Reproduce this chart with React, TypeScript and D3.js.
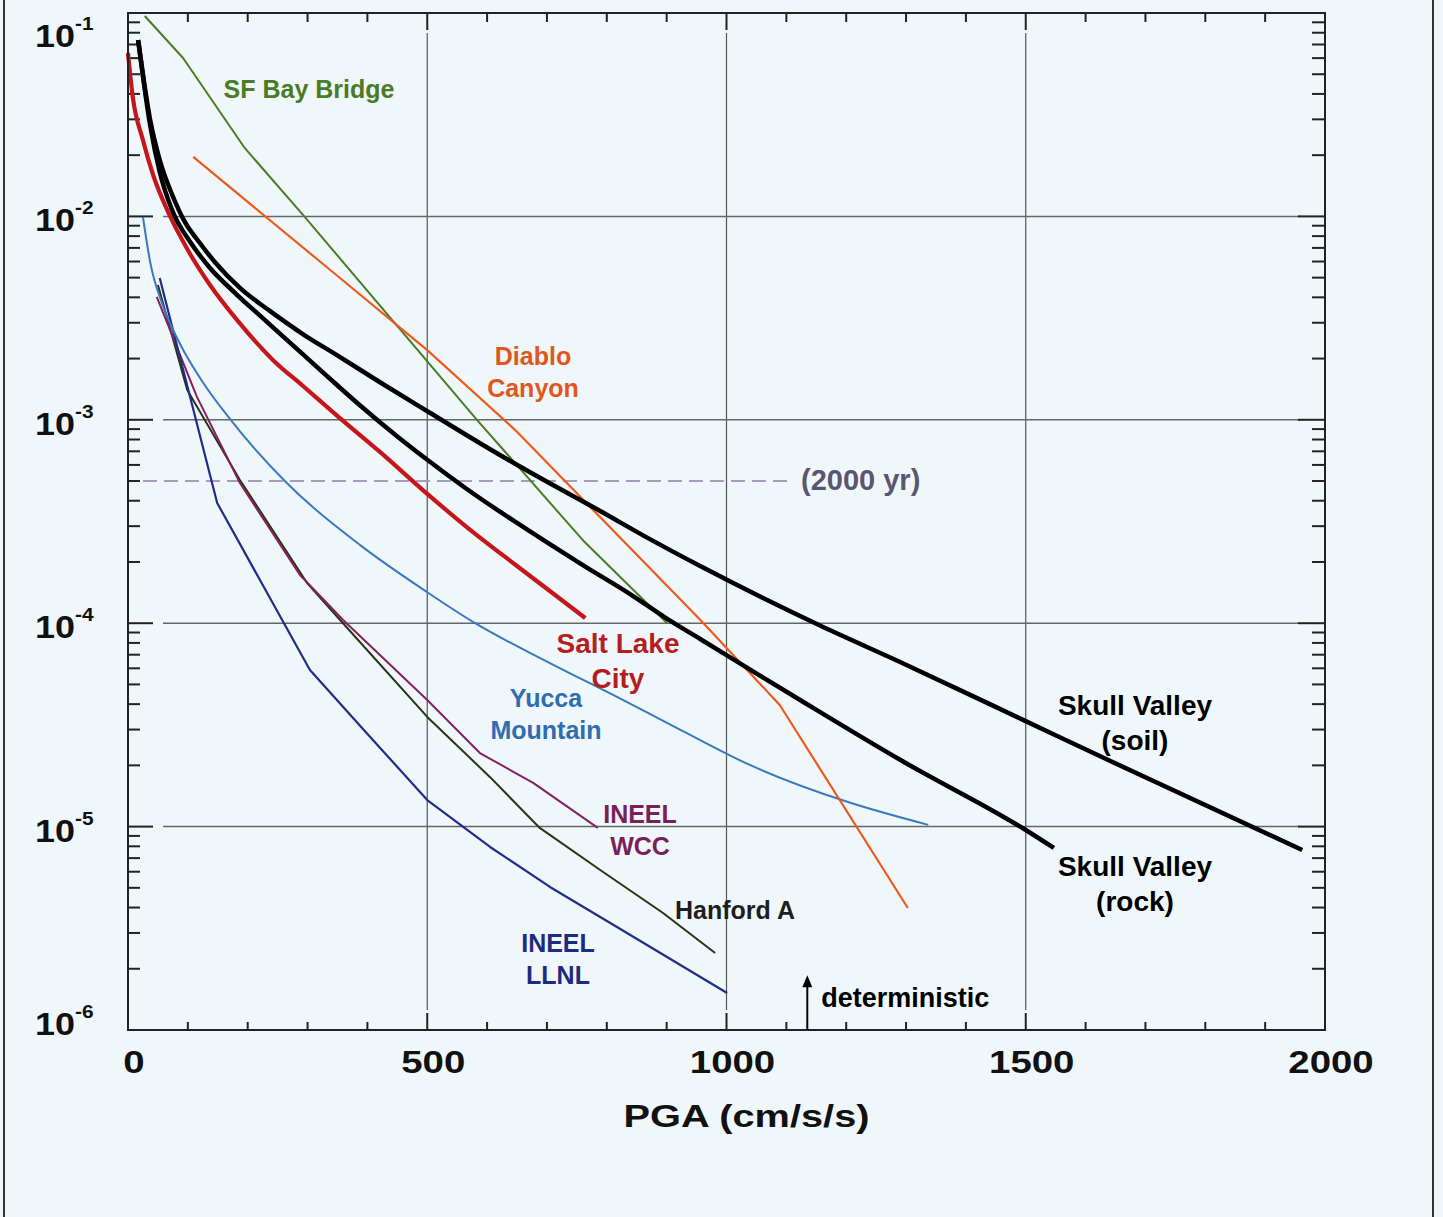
import React from 'react';
import * as d3 from 'd3';

// hazard curves: [PGA cm/s/s, annual frequency of exceedance]
const sfBayBridge: [number, number][] = [
  [28, 0.0967], [92, 0.0601], [195, 0.0217], [292, 0.0102], [583, 1.0e-3], [760, 2.56e-4], [901, 1.0e-4],
];
const diabloCanyon: [number, number][] = [
  [109, 0.0196], [338, 0.00545], [500, 0.0022], [647, 8.9e-4], [956, 1.04e-4], [1089, 3.96e-5], [1303, 3.98e-6],
];
const saltLakeCity: [number, number][] = [
  [0, 0.0636], [8, 0.0386], [25, 0.0237], [42, 0.01598], [67, 0.01051], [99, 0.00691], [137, 0.0046],
  [182, 0.0031], [242, 0.00197], [292, 0.00147], [354, 0.00102], [421, 6.95e-4], [500, 4.32e-4],
  [566, 2.97e-4], [650, 1.91e-4], [764, 1.06e-4],
];
const skullValleySoil: [number, number][] = [
  [17, 0.0736], [37, 0.0298], [53, 0.01894], [74, 0.01274], [95, 0.00939], [120, 0.0074], [145, 0.00597],
  [187, 0.00445], [237, 0.00343], [292, 0.00264], [349, 0.00208], [421, 0.00153], [505, 0.00108],
  [593, 7.52e-4], [677, 5.41e-4], [789, 3.56e-4], [872, 2.59e-4], [956, 1.91e-4], [1158, 9.69e-5],
  [1290, 6.45e-5], [1499, 3.31e-5], [1637, 2.13e-5], [1962, 7.67e-6],
];
const skullValleyRock: [number, number][] = [
  [17, 0.0736], [37, 0.0281], [53, 0.01653], [75, 0.01051], [104, 0.00748], [137, 0.00558], [179, 0.0042],
  [221, 0.00324], [271, 0.00239], [321, 0.00176], [383, 0.00121], [449, 8.33e-4], [505, 6.2e-4],
  [566, 4.57e-4], [650, 3.11e-4], [760, 1.93e-4], [844, 1.36e-4], [901, 1.05e-4], [956, 8.36e-5],
  [1123, 4.19e-5], [1290, 2.13e-5], [1500, 9.62e-6], [1547, 7.85e-6],
];
const yuccaMountain: [number, number][] = [
  [25, 0.00993], [37, 0.00597], [58, 0.00366], [87, 0.00236], [125, 0.00153], [168, 0.00103], [262, 5.0e-4],
  [388, 2.42e-4], [500, 1.42e-4], [580, 1.0e-4], [705, 6.37e-5], [817, 4.34e-5], [927, 2.95e-5],
  [1039, 2.01e-5], [1203, 1.32e-5], [1337, 1.02e-5],
];
const ineelLlnl: [number, number][] = [
  [53, 0.00498], [149, 3.9e-4], [304, 5.89e-5], [399, 2.88e-5], [500, 1.35e-5], [605, 7.94e-6],
  [705, 5.05e-6], [817, 3.21e-6], [1001, 1.52e-6],
];
const ineelWcc: [number, number][] = [
  [48, 0.00402], [115, 0.0013], [187, 4.89e-4], [287, 1.73e-4], [359, 1.04e-4], [500, 4.19e-5],
  [588, 2.3e-5], [677, 1.64e-5], [785, 9.85e-6],
];
const hanfordA: [number, number][] = [
  [50, 0.0046], [99, 0.0014], [187, 5.06e-4], [299, 1.58e-4], [354, 1.04e-4], [500, 3.46e-5],
  [605, 1.75e-5], [688, 9.85e-6], [789, 6.12e-6], [894, 3.76e-6], [981, 2.39e-6],
];

const xTicks = [0, 500, 1000, 1500, 2000];
const yExponents = [-1, -2, -3, -4, -5, -6];
const returnPeriod = { from: 25, to: 1105, value: 5e-4, label: '(2000 yr)' };
const deterministic = { pga: 1135, top: 1.86e-6, label: 'deterministic' };

const W = 1443;
const H = 1217;
const left = 128, right = 1325, top = 13, bottom = 1030;
const font = '"Liberation Sans", Arial, Helvetica, sans-serif';

const x = d3.scaleLinear().domain([0, 2000]).range([left, right]);
const y = d3.scaleLog().domain([1e-6, 1e-1]).range([bottom, top]);

const series = [
  { data: hanfordA, color: '#2c3214', width: 2 },
  { data: ineelWcc, color: '#84205f', width: 2 },
  { data: ineelLlnl, color: '#202c88', width: 2.2 },
  { data: yuccaMountain, color: '#3a78c0', width: 2, smooth: true },
  { data: sfBayBridge, color: '#4a7d23', width: 2 },
  { data: diabloCanyon, color: '#ee5a1c', width: 2.2 },
  { data: saltLakeCity, color: '#c5161c', width: 4.2, smooth: true },
  { data: skullValleyRock, color: '#000', width: 4.5, smooth: true },
  { data: skullValleySoil, color: '#000', width: 4.5, smooth: true },
];

const labels = [
  { lines: ['SF Bay Bridge'], x: 309, y: 98, color: '#4b7b25', size: 25 },
  { lines: ['Diablo', 'Canyon'], x: 533, y: 365, color: '#e2561c', size: 25 },
  { lines: ['Salt Lake', 'City'], x: 618, y: 653, color: '#b51d1f', size: 28 },
  { lines: ['Yucca', 'Mountain'], x: 546, y: 707, color: '#2f6cb0', size: 25 },
  { lines: ['INEEL', 'WCC'], x: 640, y: 823, color: '#7a1f5a', size: 25 },
  { lines: ['Hanford A'], x: 735, y: 919, color: '#1e1e1e', size: 25 },
  { lines: ['INEEL', 'LLNL'], x: 558, y: 952, color: '#1f2b80', size: 25 },
  { lines: ['Skull Valley', '(soil)'], x: 1135, y: 715, color: '#000', size: 28 },
  { lines: ['Skull Valley', '(rock)'], x: 1135, y: 876, color: '#000', size: 28 },
];

const App = () => {
  const line = d3.line<[number, number]>().x(d => x(d[0])).y(d => y(d[1]));
  const smoothLine = d3.line<[number, number]>().x(d => x(d[0])).y(d => y(d[1])).curve(d3.curveMonotoneX);

  const minorX = d3.range(100, 2000, 100).filter(v => v % 500 !== 0);
  const minorY: number[] = [];
  yExponents.slice(0, -1).forEach(e => {
    for (let m = 2; m <= 9; m++) minorY.push(m * Math.pow(10, e - 1));
  });

  const arrowTop = y(deterministic.top);

  return (
    <svg width={W} height={H} style={{ position: 'absolute', left: 0, top: 0, display: 'block' }}>
      <rect x={0} y={0} width={W} height={H} fill="#f0f7fa" />
      <line x1={4} x2={4} y1={0} y2={H} stroke="#333" strokeWidth={2} />
      <line x1={1433} x2={1433} y1={0} y2={H} stroke="#333" strokeWidth={2} />

      {/* grid */}
      {xTicks.slice(1, -1).map(t => (
        <line key={'gx' + t} x1={x(t)} x2={x(t)} y1={top + 20} y2={bottom - 20} stroke="#555" strokeWidth={1.2} />
      ))}
      {yExponents.slice(1, -1).map(e => (
        <line key={'gy' + e} x1={left + 35} x2={right - 25} y1={y(Math.pow(10, e))} y2={y(Math.pow(10, e))} stroke="#666" strokeWidth={1.5} />
      ))}

      {/* ticks */}
      <g stroke="#222" strokeWidth={2}>
        {xTicks.map(t => (
          <g key={'tx' + t}>
            <line x1={x(t)} x2={x(t)} y1={top} y2={top + 17} />
            <line x1={x(t)} x2={x(t)} y1={bottom} y2={bottom - 17} />
          </g>
        ))}
        {minorX.map(t => (
          <g key={'mx' + t}>
            <line x1={x(t)} x2={x(t)} y1={top} y2={top + 9} />
            <line x1={x(t)} x2={x(t)} y1={bottom} y2={bottom - 8} />
          </g>
        ))}
        {yExponents.map(e => (
          <g key={'ty' + e}>
            <line x1={left} x2={left + 25} y1={y(Math.pow(10, e))} y2={y(Math.pow(10, e))} />
            <line x1={right} x2={right - 27} y1={y(Math.pow(10, e))} y2={y(Math.pow(10, e))} />
          </g>
        ))}
        {minorY.map(v => (
          <g key={'my' + v}>
            <line x1={left} x2={left + 12} y1={y(v)} y2={y(v)} />
            <line x1={right} x2={right - 13} y1={y(v)} y2={y(v)} />
          </g>
        ))}
      </g>

      {/* 2000 yr return period */}
      <line
        x1={x(returnPeriod.from)} x2={x(returnPeriod.to)}
        y1={y(returnPeriod.value)} y2={y(returnPeriod.value)}
        stroke="#a59dbb" strokeWidth={2} strokeDasharray="14 7"
      />
      <text x={801} y={y(returnPeriod.value) + 9} fontFamily={font} fontWeight="bold" fontSize={29} fill="#5a5670">
        {returnPeriod.label}
      </text>

      {/* curves */}
      {series.map((s, i) => (
        <path
          key={i}
          d={(s.smooth ? smoothLine : line)(s.data) || ''}
          fill="none" stroke={s.color} strokeWidth={s.width}
          strokeLinejoin="round" strokeLinecap="butt"
        />
      ))}

      <rect x={left} y={top} width={right - left} height={bottom - top} fill="none" stroke="#222" strokeWidth={2} />

      {/* deterministic arrow */}
      <line x1={x(deterministic.pga)} x2={x(deterministic.pga)} y1={bottom} y2={arrowTop + 8} stroke="#000" strokeWidth={2} />
      <path d={`M${x(deterministic.pga)},${arrowTop} l-5,12 l10,0 z`} fill="#000" />
      <text x={x(deterministic.pga) + 14} y={1007} fontFamily={font} fontWeight="bold" fontSize={27} fill="#000">
        {deterministic.label}
      </text>

      {/* curve labels */}
      {labels.map((l, i) => (
        <text key={i} textAnchor="middle" fontFamily={font} fontWeight="bold" fontSize={l.size} fill={l.color}>
          {l.lines.map((t, j) => (
            <tspan key={j} x={l.x} y={l.y + j * (l.size + 7)}>{t}</tspan>
          ))}
        </text>
      ))}

      {/* x tick labels */}
      {xTicks.map(t => (
        <g key={'lx' + t} transform={`translate(${x(t) + 6},1073) scale(1.2,1)`}>
          <text textAnchor="middle" fontFamily={font} fontWeight="bold" fontSize={32} fill="#111">{t}</text>
        </g>
      ))}
      <g transform={`translate(${(left + right) / 2 + 20},1127)`}>
        <text textAnchor="middle" fontFamily={font} fontWeight="bold" fontSize={31} fill="#111"
          textLength={246} lengthAdjust="spacingAndGlyphs">PGA (cm/s/s)</text>
      </g>

      {/* y tick labels */}
      {yExponents.map(e => {
        const base = Math.min(Math.max(y(Math.pow(10, e)) + 15, 47), 1035);
        return (
          <g key={'ly' + e} transform={`translate(35,${base}) scale(1.16,1)`}>
            <text fontFamily={font} fontWeight="bold" fontSize={31} fill="#111">
              10<tspan dy={-17} fontSize={18}>{String(e)}</tspan>
            </text>
          </g>
        );
      })}
    </svg>
  );
};

export default App;
